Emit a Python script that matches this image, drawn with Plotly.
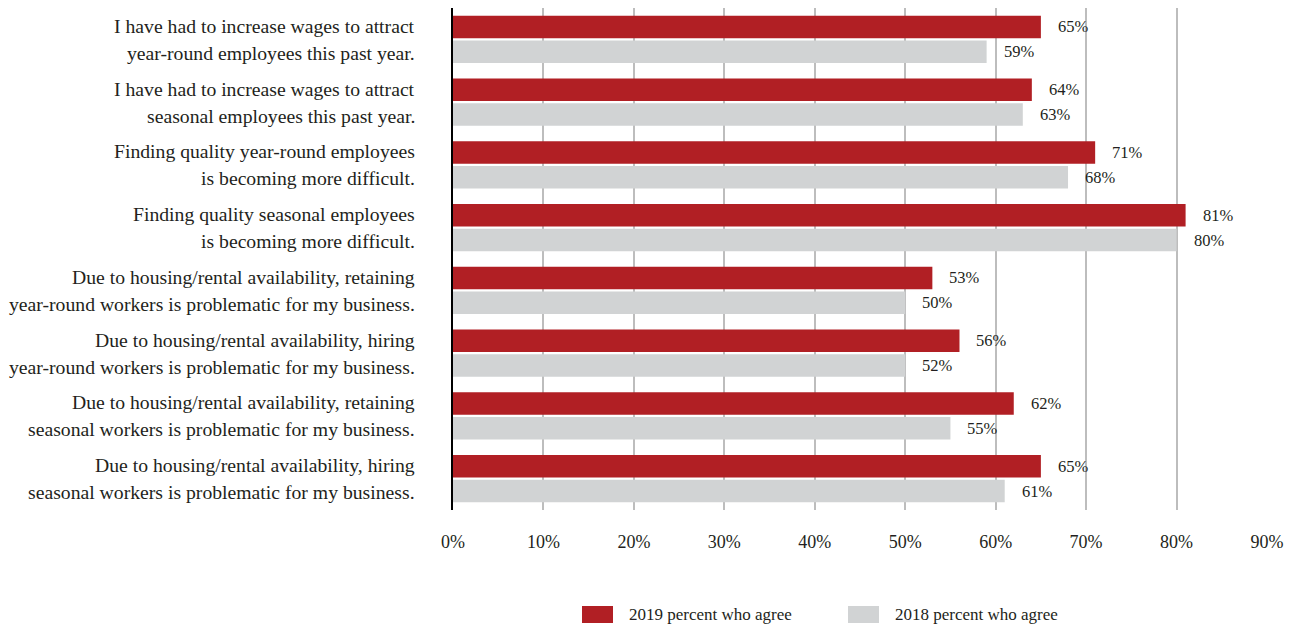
import plotly.graph_objects as go

categories = [
    "I have had to increase wages to attract<br>year-round employees this past year.",
    "I have had to increase wages to attract<br>seasonal employees this past year.",
    "Finding quality year-round employees<br>is becoming more difficult.",
    "Finding quality seasonal employees<br>is becoming more difficult.",
    "Due to housing/rental availability, retaining<br>year-round workers is problematic for my business.",
    "Due to housing/rental availability, hiring<br>year-round workers is problematic for my business.",
    "Due to housing/rental availability, retaining<br>seasonal workers is problematic for my business.",
    "Due to housing/rental availability, hiring<br>seasonal workers is problematic for my business.",
]
values_2019 = [65, 64, 71, 81, 53, 56, 62, 65]
values_2018 = [59, 63, 68, 80, 50, 50, 55, 61]
labels_2019 = ["65%", "64%", "71%", "81%", "53%", "56%", "62%", "65%"]
labels_2018 = ["59%", "63%", "68%", "80%", "50%", "52%", "55%", "61%"]
series_names = ["2019 percent who agree", "2018 percent who agree"]
x_ticks = [0, 10, 20, 30, 40, 50, 60, 70, 80, 90]

RED = "#b11f24"
GRAY = "#d1d3d4"
TXT = "#231f20"
FONT = "Liberation Serif"

fig = go.Figure()
fig.add_trace(go.Bar(y=categories, x=values_2019, orientation="h", name=series_names[0],
                     marker=dict(color=RED, line=dict(width=0))))
fig.add_trace(go.Bar(y=categories, x=values_2018, orientation="h", name=series_names[1],
                     marker=dict(color=GRAY, line=dict(width=0))))

annotations = []
for cat, v19, v18, l19, l18 in zip(categories, values_2019, values_2018, labels_2019, labels_2018):
    annotations.append(dict(x=v19, y=cat, text=l19, xanchor="left", yanchor="middle",
                            xshift=15, yshift=12.4, showarrow=False,
                            font=dict(family=FONT, size=16.5, color=TXT)))
    annotations.append(dict(x=v18, y=cat, text=l18, xanchor="left", yanchor="middle",
                            xshift=15, yshift=-12.4, showarrow=False,
                            font=dict(family=FONT, size=16.5, color=TXT)))
    line1, line2 = cat.split("<br>")
    for txt, ys in ((line1, 13.5), (line2, -13.5)):
        annotations.append(dict(xref="paper", x=0, y=cat, text=txt, xanchor="right",
                                yanchor="middle", xshift=-36, yshift=ys, showarrow=False,
                                font=dict(family=FONT, size=19.7, color=TXT)))

shapes = []
for i, (name, col) in enumerate(zip(series_names, [RED, GRAY])):
    x0 = 129 + i * 266
    shapes.append(dict(type="rect", xref="paper", yref="paper", xsizemode="pixel",
                       ysizemode="pixel", xanchor=0, yanchor=0, x0=x0, x1=x0 + 31,
                       y0=-96, y1=-113, fillcolor=col, line=dict(width=0)))
    annotations.append(dict(xref="paper", yref="paper", x=0, y=0, xshift=x0 + 45,
                            yshift=-104.5, xanchor="left", yanchor="middle", text=name,
                            showarrow=False, font=dict(family=FONT, size=17, color=TXT)))

fig.update_layout(
    width=1294, height=629,
    margin=dict(l=453, r=27, t=8, b=119),
    paper_bgcolor="white", plot_bgcolor="white",
    barmode="group", bargap=0.21, bargroupgap=0.093,
    showlegend=False,
    font=dict(family=FONT, color=TXT),
    annotations=annotations, shapes=shapes,
)
fig.update_xaxes(range=[0, 90], tickvals=x_ticks, ticktext=[f"{t}%" for t in x_ticks],
                 showgrid=True, gridcolor="#bdbdbd", gridwidth=1.5, zeroline=False,
                 showline=False, ticks="", ticklabelstandoff=19,
                 tickfont=dict(family=FONT, size=18, color=TXT))
fig.update_yaxes(autorange="reversed", showticklabels=False, showgrid=False,
                 showline=True, linecolor="#000000", linewidth=1.5, zeroline=False, ticks="")

fig.write_html("out.html")
